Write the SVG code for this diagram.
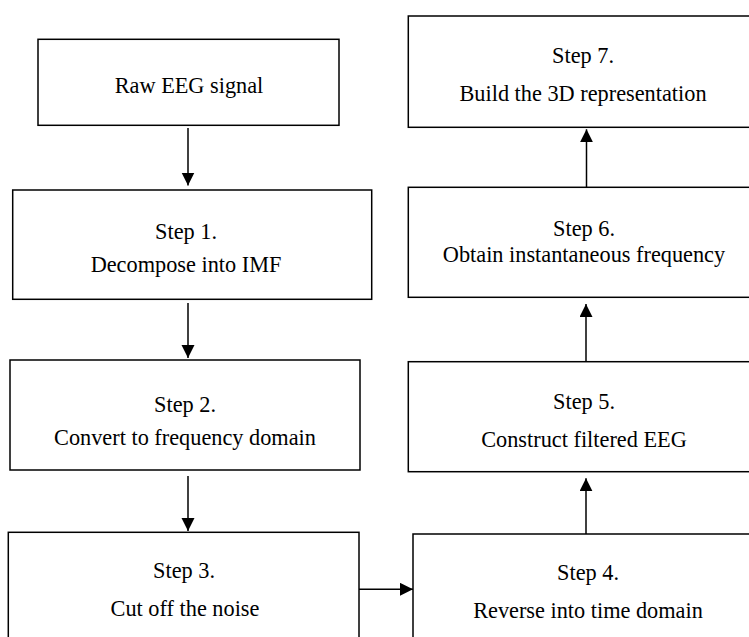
<svg xmlns="http://www.w3.org/2000/svg" width="749" height="637" viewBox="0 0 749 637">
<style>
.box{fill:#fff;stroke:#000;stroke-width:1.5}
.lbl{font-family:"Liberation Serif","Times New Roman",serif;font-size:22.3px;fill:#000;text-anchor:middle}
.con{stroke:#000;stroke-width:1.5;fill:none;marker-end:url(#ah)}
</style>
<defs>
<marker id="ah" markerUnits="userSpaceOnUse" markerWidth="14" markerHeight="14" refX="13" refY="6.5" orient="auto" viewBox="0 0 14 14">
<path d="M0,0 L13,6.5 L0,13 z" fill="#000"/>
</marker>
</defs>
<rect width="749" height="637" fill="#fff"/>
<g id="raw">
<rect class="box" x="38" y="39.3" width="301" height="86"/>
<text class="lbl" x="189" y="93">Raw EEG signal</text>
</g>
<g id="step1">
<rect class="box" x="12.7" y="190" width="359" height="109.3"/>
<text class="lbl" x="186" y="239">Step 1.</text>
<text class="lbl" x="186" y="272">Decompose into IMF</text>
</g>
<g id="step2">
<rect class="box" x="10" y="360" width="350" height="110"/>
<text class="lbl" x="185" y="412">Step 2.</text>
<text class="lbl" x="185" y="444.5">Convert to frequency domain</text>
</g>
<g id="step3">
<rect class="box" x="8.3" y="532.3" width="350.7" height="130"/>
<text class="lbl" x="184" y="578">Step 3.</text>
<text class="lbl" x="185" y="616">Cut off the noise</text>
</g>
<g id="step4">
<rect class="box" x="413" y="534" width="360" height="130"/>
<text class="lbl" x="588" y="580">Step 4.</text>
<text class="lbl" x="588" y="617.5">Reverse into time domain</text>
</g>
<g id="step5">
<rect class="box" x="408.3" y="361.7" width="360" height="110"/>
<text class="lbl" x="584" y="408.5">Step 5.</text>
<text class="lbl" x="584" y="447">Construct filtered EEG</text>
</g>
<g id="step6">
<rect class="box" x="408.3" y="187.3" width="360" height="110"/>
<text class="lbl" x="584" y="236">Step 6.</text>
<text class="lbl" x="584" y="261.5">Obtain instantaneous  frequency</text>
</g>
<g id="step7">
<rect class="box" x="408.3" y="16" width="360" height="111.3"/>
<text class="lbl" x="583" y="63">Step 7.</text>
<text class="lbl" x="583" y="101">Build the 3D representation</text>
</g>
<g id="connectors">
<line class="con" x1="188" y1="128" x2="188" y2="185.5"/>
<line class="con" x1="188" y1="303" x2="188" y2="358"/>
<line class="con" x1="188" y1="476" x2="188" y2="531"/>
<line class="con" x1="359" y1="589.3" x2="413" y2="589.3"/>
<line class="con" x1="586" y1="534" x2="586" y2="478.3"/>
<line class="con" x1="586" y1="361.7" x2="586" y2="304"/>
<line class="con" x1="586.5" y1="187.3" x2="586.5" y2="129.3"/>
</g>
</svg>
